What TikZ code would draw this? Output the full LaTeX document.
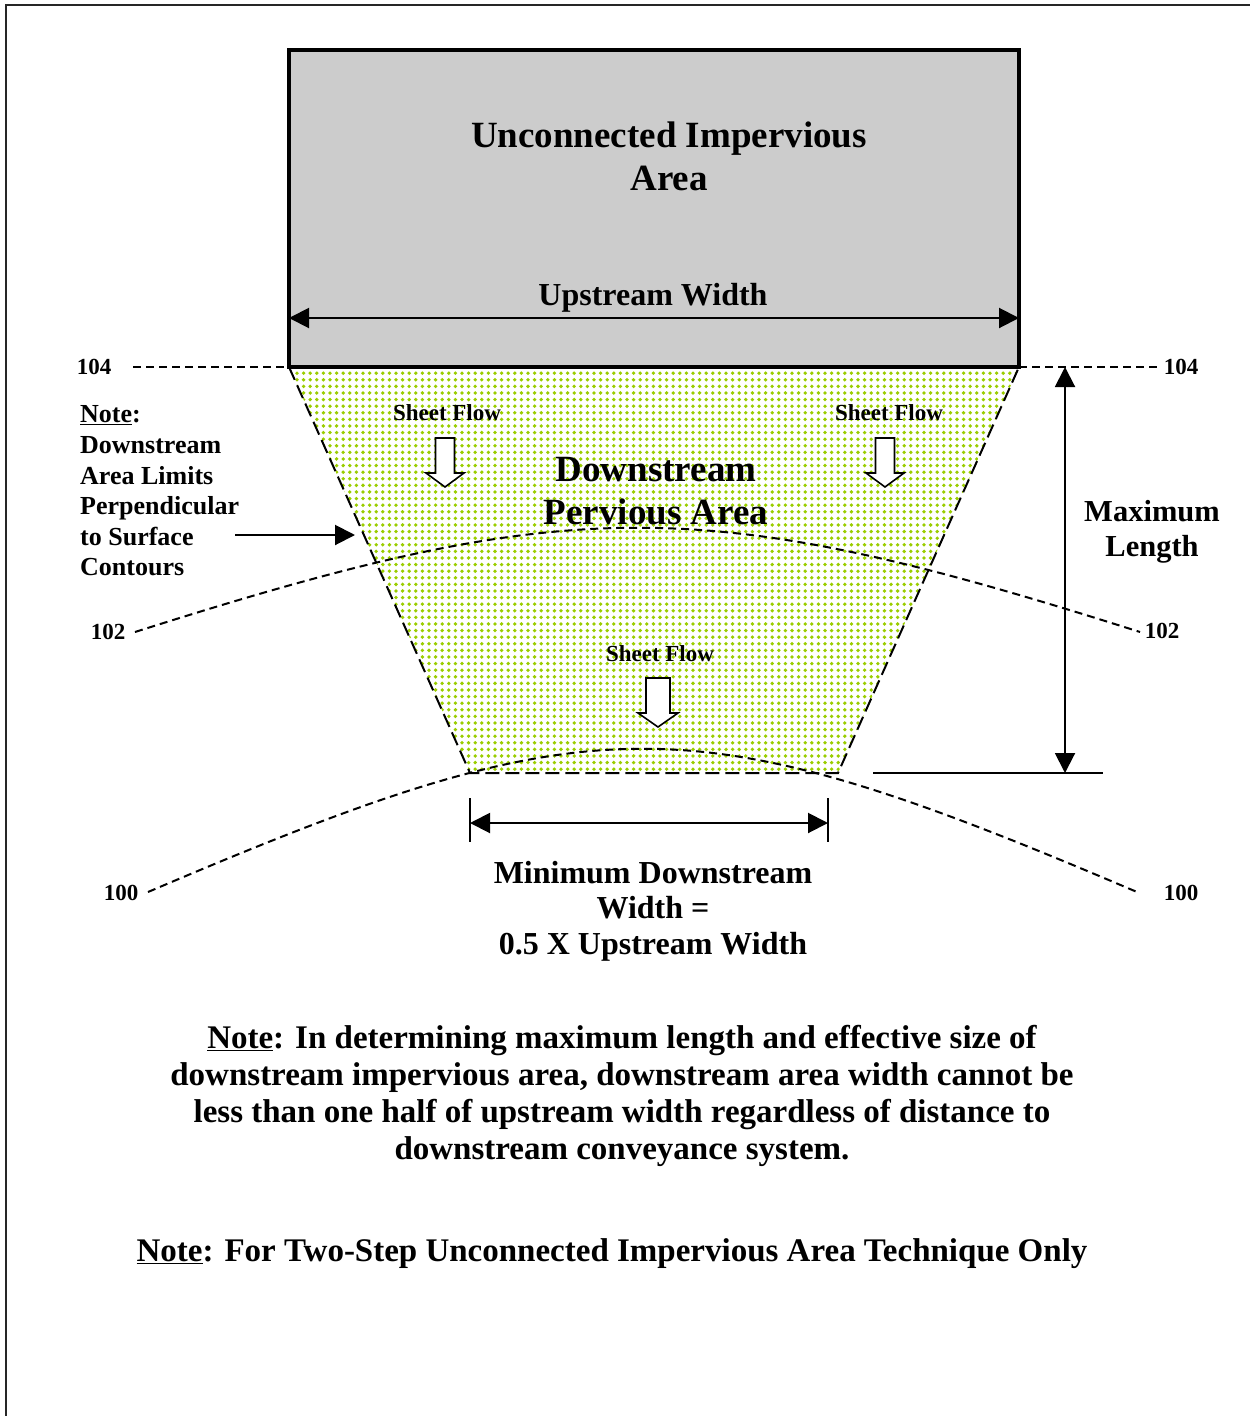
\documentclass[tikz,border=0pt]{standalone}
\usepackage{fontspec}
\setmainfont{Liberation Serif}
\usetikzlibrary{arrows.meta,patterns.meta}
\definecolor{dotgreen}{HTML}{9ACD00}
\definecolor{boxgray}{HTML}{CCCCCC}
\begin{document}
\begin{tikzpicture}[x=1pt,y=-1pt,
  every node/.style={inner sep=0pt},
  bigtxt/.style={font=\fontsize{37}{43}\selectfont\bfseries, align=center},
  midtxt/.style={font=\fontsize{32}{36}\selectfont\bfseries, align=center},
  notetxt/.style={font=\fontsize{26}{30.6}\selectfont\bfseries, align=left},
  labtxt/.style={font=\fontsize{23}{26}\selectfont\bfseries},
  sheettxt/.style={font=\fontsize{23}{26}\selectfont\bfseries},
  paratxt/.style={font=\fontsize{33}{37}\selectfont\bfseries, align=center},
  dashline/.style={line width=2pt, dash pattern=on 8pt off 5pt},
  edgeline/.style={line width=2pt, dash pattern=on 14pt off 6pt},
  dimline/.style={line width=2pt},
  tip/.style={-{Triangle[length=20pt,width=20pt]}},
  bothtip/.style={{Triangle[length=20pt,width=20pt]}-{Triangle[length=20pt,width=20pt]}},
  flowarrow/.pic={\draw[line width=1.6pt,fill=white] (-9.5,0) -- (9.5,0) -- (9.5,35) -- (19,35) -- (0,49) -- (-19,35) -- (-9.5,35) -- cycle;},
  flowarrowb/.pic={\draw[line width=1.6pt,fill=white] (-12,0) -- (12,0) -- (12,35) -- (20,35) -- (0,49) -- (-20,35) -- (-12,35) -- cycle;}
]
\useasboundingbox (0,0) rectangle (1250,1416);
% frame
\draw[line width=2.6pt, black!85] (6,1420) -- (6,5) -- (1255,5);

% geometry coordinates
\coordinate (rtl) at (289,50);
\coordinate (tl) at (289,367);
\coordinate (tr) at (1019,367);
\coordinate (bl) at (470,773);
\coordinate (br) at (838,773);

% trapezoid
\fill[pattern={Dots[radius=1.9pt,distance=6.6pt]}, pattern color=dotgreen] (tl) -- (bl) -- (br) -- (tr) -- cycle;

% impervious box
\draw[line width=3.5pt, fill=boxgray] (rtl) rectangle (tr);

% contour 104
\coordinate (c104l) at (133,367);
\coordinate (c104r) at (1157,367);
\draw[dashline] (c104l) -- (tl);
\draw[dashline] (tr) -- (c104r);

% contour 102
\coordinate (c102l) at (135,632);
\coordinate (c102r) at (1140,632);
\draw[dashline] (c102l) .. controls (572,493) and (703,493) .. (c102r);

% contour 100
\coordinate (c100l) at (148,892);
\coordinate (c100r) at (1137,892);
\draw[dashline] (c100l) .. controls (596,701) and (689,701) .. (c100r);

% trapezoid dashed limits
\draw[edgeline] (tl) -- (bl) -- (br) -- (tr);

% upstream width
\coordinate (uwl) at (289,318);
\coordinate (uwr) at (1019,318);
\draw[dimline, bothtip] (uwl) -- (uwr);

% maximum length
\coordinate (mlt) at (1065,367);
\coordinate (mlb) at (1065,773);
\coordinate (mll) at (873,773);
\coordinate (mlr) at (1103,773);
\draw[dimline, bothtip] (mlb) -- (mlt);
\draw[dimline] (mll) -- (mlr);

% minimum downstream width
\coordinate (mwt1) at (470,798);
\coordinate (mwb1) at (470,842);
\coordinate (mwt2) at (828,798);
\coordinate (mwb2) at (828,842);
\coordinate (mwl) at (470,823);
\coordinate (mwr) at (828,823);
\draw[dimline] (mwt1) -- (mwb1);
\draw[dimline] (mwt2) -- (mwb2);
\draw[dimline, bothtip] (mwl) -- (mwr);

% note arrow
\coordinate (na1) at (235,535);
\coordinate (na2) at (355,535);
\draw[dimline, tip] (na1) -- (na2);

% sheet flow arrows
\pic at (445,438) {flowarrow};
\pic at (885,438) {flowarrow};
\pic at (658,678) {flowarrowb};

% texts
\node[bigtxt] (uia) at (669,156) {Unconnected Impervious\\Area};
\node[midtxt] (uw) at (653,298) {Upstream Width};
\node[bigtxt] (dpa) at (656,491) {Downstream\\Pervious Area};
\node[sheettxt] (sf1) at (447,413) {Sheet Flow};
\node[sheettxt] (sf2) at (889,413) {Sheet Flow};
\node[sheettxt] (sf3) at (660,654) {Sheet Flow};
\node[notetxt, anchor=west] (ln) at (80,491) {\underline{Note}:\\Downstream\\Area Limits\\Perpendicular\\to Surface\\Contours};
\node[labtxt] (l104a) at (94,367) {104};
\node[labtxt] (l104b) at (1181,367) {104};
\node[labtxt] (l102a) at (108,632) {102};
\node[labtxt] (l102b) at (1162,631) {102};
\node[labtxt] (l100a) at (121,893) {100};
\node[labtxt] (l100b) at (1181,893) {100};
\node[midtxt, font=\fontsize{30.5}{35}\selectfont\bfseries] (ml) at (1152,532) {Maximum\\Length};
\node[midtxt, font=\fontsize{32}{35.5}\selectfont\bfseries] (mdw) at (653,911) {Minimum Downstream\\Width =\\0.5 X Upstream Width};
\node[paratxt] (para) at (622,1096) {\underline{Note}: In determining maximum length and effective size of\\downstream impervious area, downstream area width cannot be\\less than one half of upstream width regardless of distance to\\downstream conveyance system.};
\node[paratxt] (last) at (612,1254) {\underline{Note}: For Two-Step Unconnected Impervious Area Technique Only};
\end{tikzpicture}
\end{document}
